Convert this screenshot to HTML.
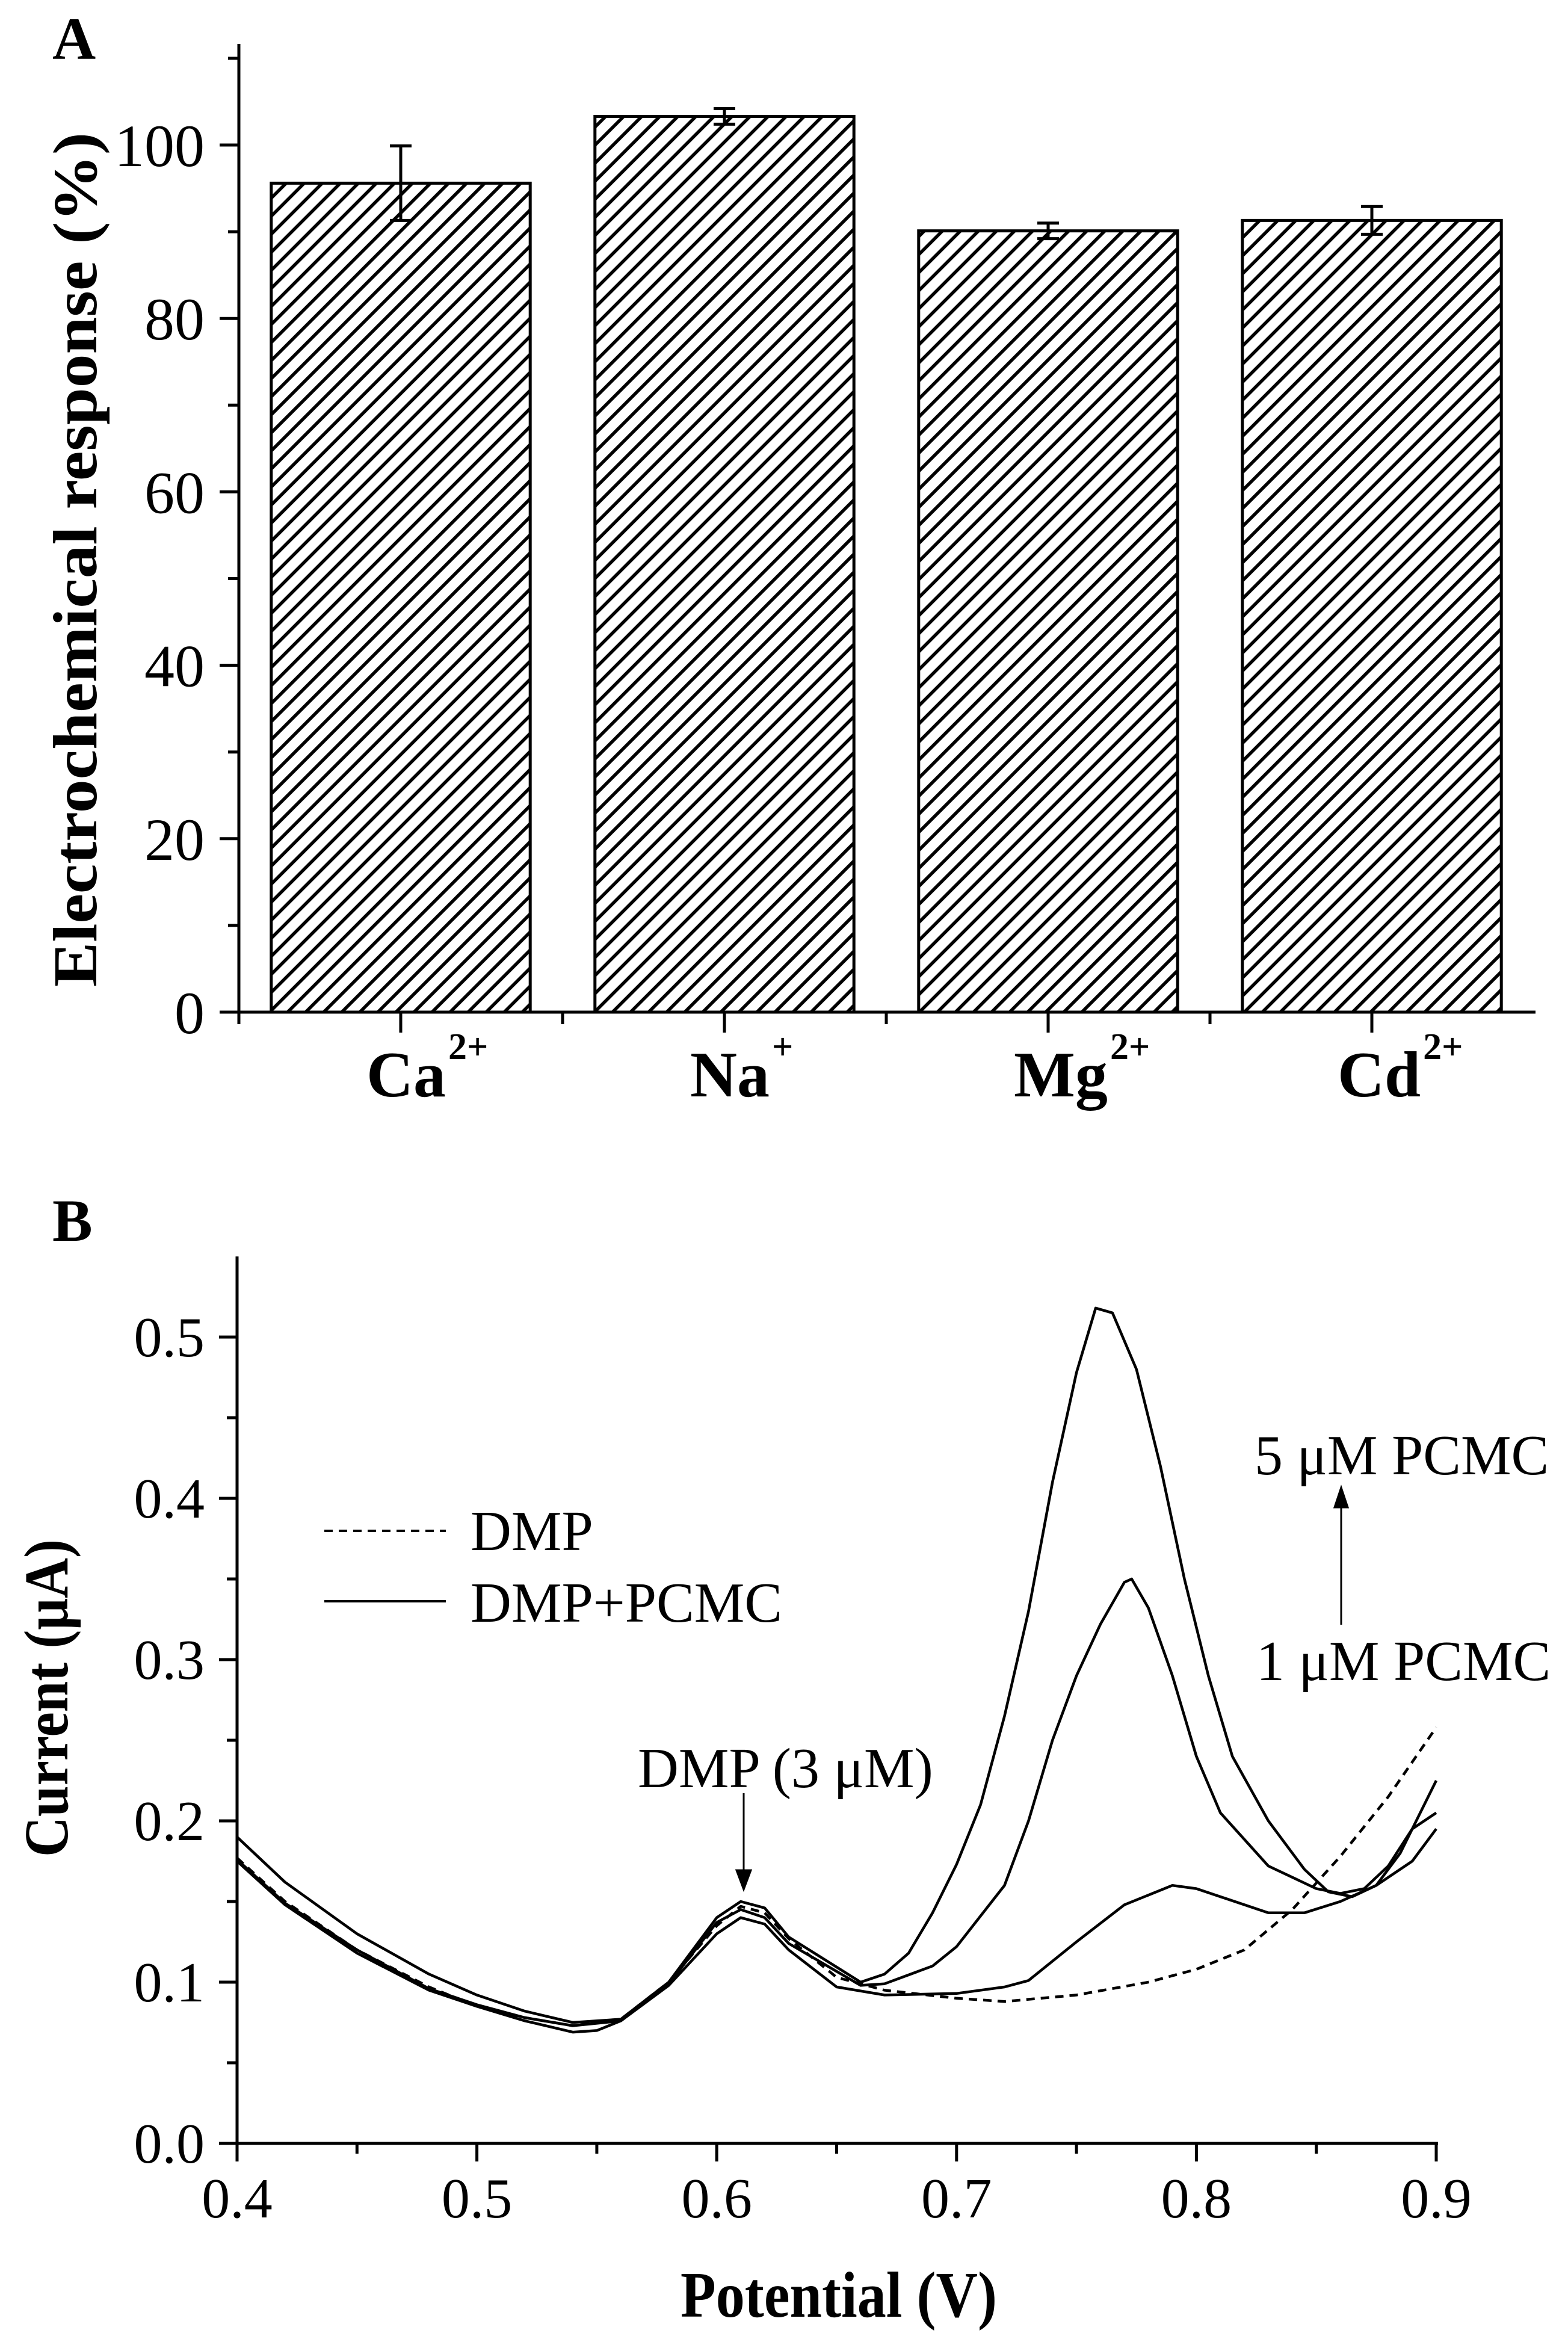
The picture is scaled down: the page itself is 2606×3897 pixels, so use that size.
<!DOCTYPE html>
<html><head><meta charset="utf-8">
<style>
html,body{margin:0;padding:0;background:#fff;}
svg{display:block;}
text{font-family:"Liberation Serif",serif;fill:#000;}
</style></head>
<body>
<svg id="fig" width="2606" height="3897" viewBox="0 0 2606 3897" xmlns="http://www.w3.org/2000/svg">
<defs>
<pattern id="hatch" patternUnits="userSpaceOnUse" width="30" height="30">
<path d="M-8,38 L38,-8 M-38,38 L38,-38 M-8,68 L68,-8" stroke="#000" stroke-width="5.5"/>
</pattern>
</defs>
<rect width="2606" height="3897" fill="#fff"/>
<g id="panelA"></g>
<g id="panelB"></g>
</svg>
<script>
// ---------- Panel A data ----------
const catLabels = ["Ca", "Na", "Mg", "Cd"];
const catCharges = ["2+", "+", "2+", "2+"];
const barValues = [95.6, 103.3, 90.1, 91.3];
const errValues = [4.3, 0.9, 0.9, 1.6];
const yTicksA = [0, 20, 40, 60, 80, 100];
const yMinorA = [10, 30, 50, 70, 90, 110];

// ---------- Panel B data ----------
const xTicksB = [0.4, 0.5, 0.6, 0.7, 0.8, 0.9];
const xMinorB = [0.45, 0.55, 0.65, 0.75, 0.85];
const yTicksB = [0.0, 0.1, 0.2, 0.3, 0.4, 0.5];
const yMinorB = [0.05, 0.15, 0.25, 0.35, 0.45];

const dmpX = [0.4,0.42,0.45,0.48,0.5,0.52,0.54,0.56,0.58,0.6,0.61,0.62,0.63,0.65,0.67,0.7,0.72,0.75,0.78,0.8,0.82,0.84,0.86,0.88,0.9];
const dmpY = [0.177,0.15,0.12,0.097,0.085,0.078,0.073,0.077,0.1,0.135,0.147,0.143,0.127,0.103,0.095,0.09,0.088,0.092,0.1,0.108,0.12,0.145,0.178,0.215,0.258];

const p1X = [0.4,0.42,0.45,0.48,0.5,0.52,0.54,0.55,0.56,0.58,0.6,0.61,0.62,0.63,0.65,0.67,0.7,0.72,0.73,0.75,0.77,0.79,0.8,0.82,0.83,0.845,0.86,0.875,0.89,0.9];
const p1Y = [0.175,0.148,0.118,0.095,0.085,0.076,0.069,0.07,0.076,0.098,0.13,0.14,0.136,0.12,0.097,0.092,0.093,0.097,0.101,0.125,0.148,0.16,0.158,0.148,0.143,0.143,0.15,0.16,0.175,0.195];

const p2X = [0.4,0.42,0.45,0.48,0.5,0.52,0.54,0.56,0.58,0.6,0.61,0.62,0.63,0.66,0.67,0.69,0.7,0.72,0.73,0.74,0.75,0.76,0.77,0.773,0.78,0.79,0.8,0.81,0.83,0.85,0.86,0.87,0.88,0.89,0.9];
const p2Y = [0.176,0.149,0.12,0.096,0.086,0.078,0.073,0.076,0.099,0.137,0.145,0.14,0.124,0.098,0.099,0.11,0.122,0.16,0.2,0.25,0.29,0.322,0.348,0.35,0.332,0.29,0.24,0.205,0.172,0.158,0.155,0.158,0.172,0.195,0.205];

const p3X = [0.4,0.42,0.45,0.48,0.5,0.52,0.54,0.56,0.58,0.6,0.61,0.62,0.63,0.66,0.67,0.68,0.69,0.7,0.71,0.72,0.73,0.74,0.75,0.758,0.765,0.775,0.785,0.795,0.805,0.815,0.83,0.845,0.855,0.865,0.875,0.885,0.9];
const p3Y = [0.19,0.162,0.13,0.105,0.092,0.082,0.075,0.077,0.1,0.14,0.15,0.146,0.128,0.1,0.105,0.118,0.143,0.173,0.21,0.265,0.33,0.41,0.478,0.518,0.515,0.48,0.42,0.35,0.29,0.24,0.2,0.17,0.156,0.153,0.16,0.18,0.225];

const NS = "http://www.w3.org/2000/svg";
function mk(tag, attrs, parent){
  const e = document.createElementNS(NS, tag);
  for (const k in attrs) e.setAttribute(k, attrs[k]);
  parent.appendChild(e);
  return e;
}

// ---------- Panel A ----------
const A = document.getElementById('panelA');
const axA = {x0:397, y0:1682, unitX:538, unitY:14.41};
function ax(c){ return axA.x0 + (c - 0.5) * axA.unitX; }
function ay(v){ return axA.y0 - v * axA.unitY; }

let t = mk('text', {x:87, y:98, 'font-size':100, 'font-weight':'bold'}, A);
t.textContent = 'A';



barValues.forEach((v, i) => {
  const cx = ax(i + 1), w = 0.8 * axA.unitX;
  const r = mk('rect', {x:cx - w/2, y:ay(v), width:w, height:axA.y0 - ay(v), fill:'url(#hatch)', stroke:'#000', 'stroke-width':5}, A);
  
  
  const e = errValues[i];
  const g = mk('path', {d:`M${cx},${ay(v+e)} V${ay(v-e)} M${cx-18},${ay(v+e)} H${cx+18} M${cx-18},${ay(v-e)} H${cx+18}`, stroke:'#000', 'stroke-width':5, fill:'none'}, A);
  
  
});

let axisA = mk('path', {d:`M${axA.x0},73 V${axA.y0+20} M${axA.x0-20},${axA.y0} H2552`, stroke:'#000', 'stroke-width':5, fill:'none'}, A);



yTicksA.forEach(v => {
  const l = mk('line', {x1:axA.x0-32, x2:axA.x0, y1:ay(v), y2:ay(v), stroke:'#000', 'stroke-width':5}, A);
  
  
  const tx = mk('text', {x:340, y:ay(v)+35, 'font-size':100, 'text-anchor':'end'}, A);
  tx.textContent = v;
  
  
});
yMinorA.forEach(v => {
  const l = mk('line', {x1:axA.x0-18, x2:axA.x0, y1:ay(v), y2:ay(v), stroke:'#000', 'stroke-width':5}, A);
  
  
});
[1.5, 2.5, 3.5].forEach(c => {
  const l = mk('line', {x1:ax(c), x2:ax(c), y1:axA.y0, y2:axA.y0+20, stroke:'#000', 'stroke-width':5}, A);
  
  
});
catLabels.forEach((c, i) => {
  const cx = ax(i + 1);
  const l = mk('line', {x1:cx, x2:cx, y1:axA.y0, y2:axA.y0+34, stroke:'#000', 'stroke-width':5}, A);
  
  
  const tx = mk('text', {x:cx - 57, y:1822, 'font-size':108, 'font-weight':'bold'}, A);
  
  
  tx.textContent = c;
  const sp = mk('tspan', {dy:-62, 'font-size':62, dx:4}, tx);
  sp.textContent = catCharges[i];
});
t = mk('text', {x:0, y:0, 'font-size':104, 'font-weight':'bold', 'text-anchor':'middle', transform:'translate(160,930) rotate(-90)', textLength:1420, lengthAdjust:'spacingAndGlyphs'}, A);
t.textContent = 'Electrochemical response (%)';



// ---------- Panel B ----------
const B = document.getElementById('panelB');
const axB = {x0:394, y0:3562, sx:3986, sy:2680};
function bx(v){ return axB.x0 + (v - 0.4) * axB.sx; }
function by(v){ return axB.y0 - v * axB.sy; }

t = mk('text', {x:87, y:2062, 'font-size':100, 'font-weight':'bold'}, B);
t.textContent = 'B';



let axisB = mk('path', {d:`M${axB.x0},2088 V${axB.y0+30} M${axB.x0-30},${axB.y0} H${bx(0.9)+3}`, stroke:'#000', 'stroke-width':5, fill:'none'}, B);



xTicksB.forEach(v => {
  const l = mk('line', {x1:bx(v), x2:bx(v), y1:axB.y0, y2:axB.y0+30, stroke:'#000', 'stroke-width':5}, B);
  
  
  const tx = mk('text', {x:bx(v), y:3685, 'font-size':94, 'text-anchor':'middle'}, B);
  tx.textContent = v.toFixed(1);
  
  
});
xMinorB.forEach(v => {
  const l = mk('line', {x1:bx(v), x2:bx(v), y1:axB.y0, y2:axB.y0+17, stroke:'#000', 'stroke-width':5}, B);
  
  
});
yTicksB.forEach(v => {
  const l = mk('line', {x1:axB.x0-30, x2:axB.x0, y1:by(v), y2:by(v), stroke:'#000', 'stroke-width':5}, B);
  
  
  const tx = mk('text', {x:340, y:by(v)+32, 'font-size':94, 'text-anchor':'end'}, B);
  tx.textContent = v.toFixed(1);
  
  
});
yMinorB.forEach(v => {
  const l = mk('line', {x1:axB.x0-17, x2:axB.x0, y1:by(v), y2:by(v), stroke:'#000', 'stroke-width':5}, B);
  
  
});

function drawSeries(xs, ys, name, dashed){
  const d = xs.map((x, i) => (i ? 'L' : 'M') + bx(x).toFixed(1) + ',' + by(ys[i]).toFixed(1)).join(' ');
  const p = mk('path', {d:d, fill:'none', stroke:'#000', 'stroke-width':4.5, 'stroke-linejoin':'round'}, B);
  if (dashed) p.setAttribute('stroke-dasharray', '14,10');
  
  
}
drawSeries(dmpX, dmpY, 'line-dmp', true);
drawSeries(p1X, p1Y, 'line-pcmc-1um', false);
drawSeries(p2X, p2Y, 'line-pcmc-mid', false);
drawSeries(p3X, p3Y, 'line-pcmc-5um', false);

// legend
let lg = mk('line', {x1:539, x2:741, y1:2544, y2:2544, stroke:'#000', 'stroke-width':4, 'stroke-dasharray':'14,10'}, B);


t = mk('text', {x:782, y:2576, 'font-size':94}, B);
t.textContent = 'DMP';


lg = mk('line', {x1:539, x2:741, y1:2661, y2:2661, stroke:'#000', 'stroke-width':4}, B);


t = mk('text', {x:782, y:2695, 'font-size':94}, B);
t.textContent = 'DMP+PCMC';



// annotations
t = mk('text', {x:1060, y:2970, 'font-size':94}, B);
t.textContent = 'DMP (3 μM)';


let ar = mk('path', {d:'M1236,2980 V3130 M1224,3108 L1236,3140 L1248,3108 Z', stroke:'#000', 'stroke-width':3, fill:'#000'}, B);


t = mk('text', {x:2085, y:2450, 'font-size':94}, B);
t.textContent = '5 μM PCMC';


t = mk('text', {x:2088, y:2792, 'font-size':94}, B);
t.textContent = '1 μM PCMC';


ar = mk('path', {d:'M2229,2700 V2485 M2218,2505 L2229,2472 L2240,2505 Z', stroke:'#000', 'stroke-width':3, fill:'#000'}, B);



// axis titles
t = mk('text', {x:1394, y:3850, 'font-size':108, 'font-weight':'bold', 'text-anchor':'middle', textLength:526, lengthAdjust:'spacingAndGlyphs'}, B);
t.textContent = 'Potential (V)';


t = mk('text', {x:0, y:0, 'font-size':104, 'font-weight':'bold', 'text-anchor':'middle', transform:'translate(112,2822) rotate(-90)', textLength:528, lengthAdjust:'spacingAndGlyphs'}, B);
t.textContent = 'Current (μA)';


</script>
</body></html>
